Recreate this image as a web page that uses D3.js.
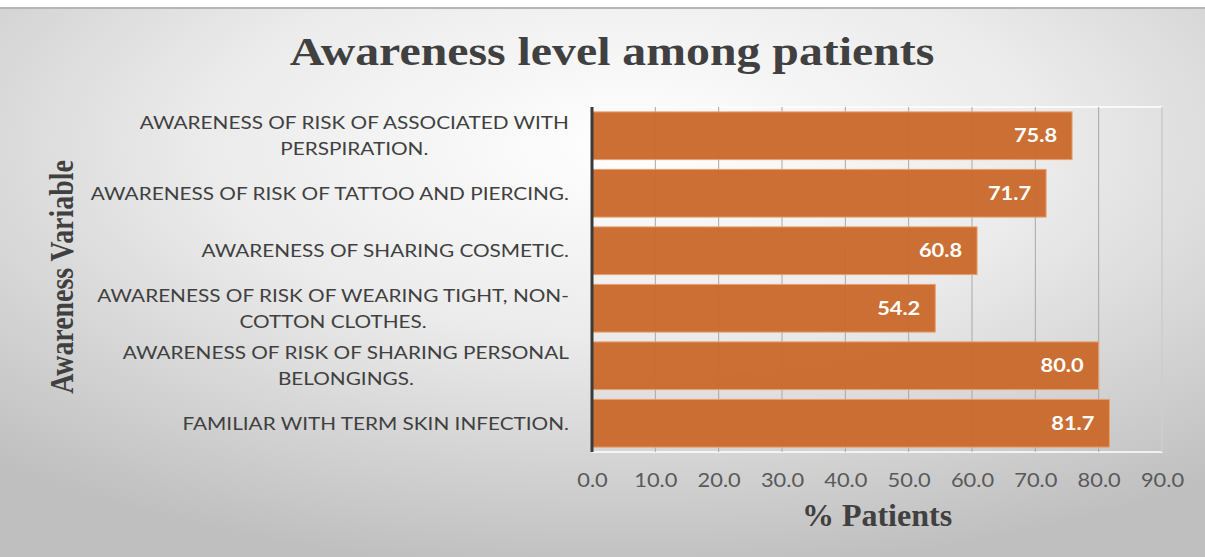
<!DOCTYPE html>
<html lang="en">
<head>
<meta charset="UTF-8">
<script src="https://cdn.jsdelivr.net/npm/d3@7"></script>
<title>Awareness level among patients</title>
<style>
    body { margin: 0; background: #fff; }
    .cat { font-family: Lato, "Open Sans", sans-serif; font-size: 17.6px; fill: #404040; }
    .tick text { font-family: Lato, "Open Sans", sans-serif; font-size: 18.5px; fill: #595959; }
    .val { font-family: Lato, "Open Sans", sans-serif; font-size: 18.5px; font-weight: bold; fill: #fff; }
    .serif { font-family: "Liberation Serif", "Times New Roman", serif; font-weight: bold; fill: #404040; }
</style>
</head>
<body>
<div id="chart"></div>
<script>
    // categories, top to bottom ("\n" = where the label wraps)
    var categories = [
        "AWARENESS OF RISK OF ASSOCIATED WITH\nPERSPIRATION.",
        "AWARENESS OF RISK OF TATTOO AND PIERCING.",
        "AWARENESS OF SHARING COSMETIC.",
        "AWARENESS OF RISK OF WEARING TIGHT, NON-\nCOTTON CLOTHES.",
        "AWARENESS OF RISK OF SHARING PERSONAL\nBELONGINGS.",
        "FAMILIAR WITH TERM SKIN INFECTION."
    ];
    var values = [75.8, 71.7, 60.8, 54.2, 80.0, 81.7];
    var xTicks = [0, 10, 20, 30, 40, 50, 60, 70, 80, 90];

    var W = 1205, H = 557;
    var sx = 1.18; // the source picture is stretched sideways
    var svg = d3.select("#chart").append("svg")
        .attr("width", W).attr("height", H);

    // background gradient like the excel chart area
    var defs = svg.append("defs");
    var rg = defs.append("radialGradient").attr("id", "bg")
        .attr("cx", "0.52").attr("cy", "0.25").attr("r", "0.78");
    rg.append("stop").attr("offset", "0%").attr("stop-color", "#ffffff");
    rg.append("stop").attr("offset", "45%").attr("stop-color", "#ebebeb");
    rg.append("stop").attr("offset", "100%").attr("stop-color", "#bfbfbf");

    svg.append("rect").attr("x", 0).attr("y", 8).attr("width", W).attr("height", H - 8)
        .attr("fill", "url(#bg)");
    svg.append("line").attr("x1", 0).attr("x2", W).attr("y1", 8).attr("y2", 8)
        .attr("stroke", "#b5b5b5").attr("stroke-width", 2);

    var m = {left: 592, right: 1162, top: 107, bottom: 452};

    var x = d3.scaleLinear().domain([0, 90]).range([m.left, m.right]);
    var y = d3.scaleBand().domain(categories).range([m.top, m.bottom]).paddingInner(0.17).paddingOuter(0.085);

    // plot area border
    svg.append("rect").attr("x", m.left).attr("y", m.top)
        .attr("width", m.right - m.left).attr("height", m.bottom - m.top)
        .attr("fill", "none").attr("stroke", "#ffffff").attr("stroke-width", 1.5);

    // gridlines
    svg.append("g").selectAll("line").data(xTicks.slice(1))
        .join("line")
        .attr("x1", d => x(d)).attr("x2", d => x(d))
        .attr("y1", m.top).attr("y2", m.bottom)
        .attr("stroke", "#a8a8a8").attr("stroke-width", 1);

    // bars
    svg.append("g").selectAll("rect").data(values)
        .join("rect")
        .attr("x", x(0))
        .attr("y", (d, i) => y(categories[i]))
        .attr("width", d => x(d) - x(0))
        .attr("height", y.bandwidth())
        .attr("fill", "#c96a2d")
        .attr("fill-opacity", 0.97)
        .attr("stroke", "#eaa070")
        .attr("stroke-width", 1);

    // value labels (inside end)
    svg.append("g").selectAll("text").data(values)
        .join("text")
        .attr("class", "val")
        .attr("transform", (d, i) => "translate(" + (x(d) - 15) + "," + (y(categories[i]) + y.bandwidth() / 2) + ") scale(" + sx + ",1)")
        .attr("dy", "0.36em")
        .attr("text-anchor", "end")
        .text(d => d.toFixed(1));

    // category axis line
    svg.append("line").attr("x1", m.left).attr("x2", m.left)
        .attr("y1", m.top).attr("y2", m.bottom)
        .attr("stroke", "#3a3a3a").attr("stroke-width", 3);

    // category labels, wrapped lines centered in the block, block right aligned
    var catG = svg.append("g");
    categories.forEach(function (c) {
        var lines = c.split("\n");
        var cy = y(c) + y.bandwidth() / 2;
        var ts = lines.map(function (l, j) {
            return catG.append("text").attr("class", "cat")
                .attr("dy", "0.36em")
                .attr("text-anchor", "middle")
                .text(l)
                .datum(cy + (j - (lines.length - 1) / 2) * 26);
        });
        var wMax = d3.max(ts, t => t.node().getComputedTextLength()) * sx;
        ts.forEach(t => t.attr("transform", d => "translate(" + (569 - wMax / 2) + "," + d + ") scale(" + sx + ",1)"));
    });

    // value axis
    var axis = d3.axisBottom(x).tickValues(xTicks).tickSize(0).tickPadding(0)
        .tickFormat(d3.format(".1f"));
    var ax = svg.append("g").attr("transform", "translate(0,487)").call(axis);
    ax.select(".domain").remove();
    ax.selectAll(".tick text").attr("dy", 0).attr("transform", "scale(" + sx + ",1)");

    // titles
    svg.append("text").attr("class", "serif")
        .attr("transform", "translate(612,65) scale(" + sx + ",1)")
        .attr("text-anchor", "middle")
        .style("font-size", "40.5px")
        .text("Awareness level among patients");

    svg.append("text").attr("class", "serif")
        .attr("x", 877).attr("y", 526).attr("text-anchor", "middle")
        .style("font-size", "32px")
        .text("% Patients");

    svg.append("text").attr("class", "serif")
        .attr("transform", "translate(72.5,277) rotate(-90) scale(0.82,1)")
        .attr("text-anchor", "middle")
        .style("font-size", "34px")
        .text("Awareness Variable");
</script>
</body>
</html>
